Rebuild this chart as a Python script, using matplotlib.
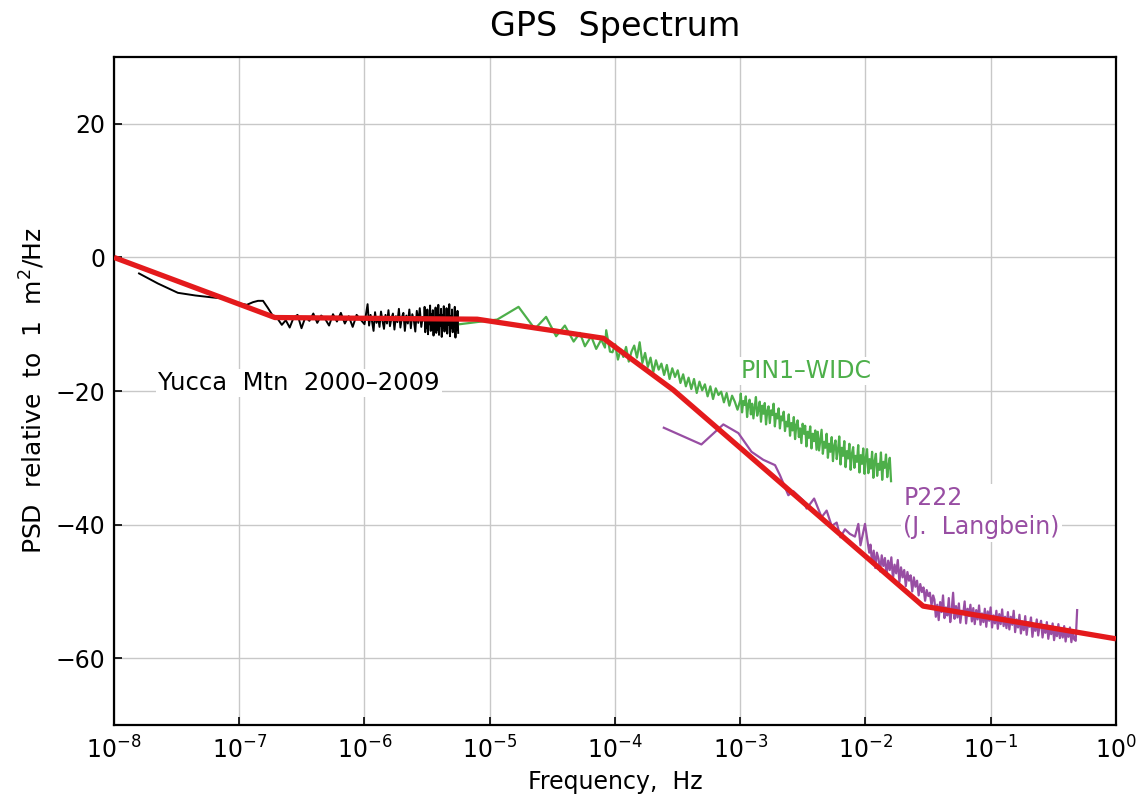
import numpy as np
import matplotlib
matplotlib.use("Agg")
import matplotlib.pyplot as plt
from matplotlib.ticker import NullLocator, FixedLocator

# ---------------- data ----------------
# Model (red) line: log10 frequency / PSD (dB)
red_logf = [-8.0, -6.715, -5.1, -4.093, -3.534, -1.54, 0.0]
red_psd = [0.0, -9.0, -9.25, -12.1, -19.85, -52.2, -57.1]

# Yucca Mtn (black)
bk_lo_logf = [-7.80, -7.65, -7.49, -7.35, -7.21, -7.10, -7.02, -6.94, -6.89,
              -6.85, -6.81, -6.77, -6.73, -6.70]
bk_lo_psd = [-2.4, -3.9, -5.3, -5.7, -6.0, -6.2, -6.8, -7.1, -6.7,
             -6.5, -6.5, -7.6, -8.8, -9.0]
bk_a_range = (10 ** -6.66, 1.0e-6)
bk_a_psd = [-10.1, -9.4, -10.5, -9.0, -8.6, -10.6, -8.9, -9.5, -8.4, -9.8, -8.7,
            -9.2, -10.2, -8.5, -9.6, -8.3, -9.9, -8.8, -10.4, -8.6, -9.3, -10.0]
bk_b_range = (1.03e-6, 3.0e-6)
bk_b_psd = [-8.4, -7.0, -10.2, -8.6, -9.6, -11.0, -8.2, -9.8, -8.9, -10.4,
            -8.1, -9.5, -10.7, -8.6, -9.9, -7.9, -10.3, -9.1, -8.4, -10.8,
            -8.8, -9.7, -7.7, -10.5, -9.0, -8.3, -11.0, -8.7, -9.9, -7.8,
            -10.6, -8.5, -9.4, -11.1, -8.0, -9.8, -7.6, -10.4, -8.9, -9.5]
bk_c_range = (3.02e-6, 5.6e-6)
bk_c_psd = [-7.4, -11.2, -8.2, -10.6, -7.8, -11.5, -8.9, -10.0, -7.2, -11.0,
            -8.5, -10.8, -7.9, -11.7, -9.0, -10.3, -7.5, -11.3, -8.3, -10.9,
            -7.1, -11.6, -8.7, -10.2, -7.7, -11.9, -8.6, -10.5, -7.3, -11.1,
            -9.1, -10.7, -7.6, -11.4, -8.4, -10.1, -7.0, -11.8, -8.8, -10.6,
            -7.8, -11.2, -9.2, -10.4, -7.4, -12.0, -8.6, -10.9, -8.0, -11.3]

# PIN1-WIDC (green)
gr_lo_logf = [-5.24, -4.94, -4.77, -4.64, -4.55, -4.47, -4.40, -4.33, -4.28,
              -4.24, -4.19, -4.15, -4.11, -4.08, -4.07, -4.04]
gr_lo_psd = [-10.0, -9.3, -7.4, -10.7, -8.9, -11.8, -10.2, -12.6, -11.3,
             -13.3, -11.8, -13.7, -12.3, -13.5, -10.9, -14.1]
gr_a_range = (10 ** -4.02, 1.0e-3)
gr_a_psd = [-14.2, -13.0, -15.3, -13.8, -14.9, -13.4, -15.6, -14.1, -13.2, -15.0,
            -12.7, -15.8, -14.3, -16.4, -15.0, -17.2, -15.4, -16.8, -15.9, -17.6,
            -16.1, -18.2, -16.6, -17.9, -16.9, -18.8, -17.5, -19.3, -18.0, -19.7,
            -18.2, -20.3, -18.6, -19.9, -19.0, -20.8, -19.3, -21.2, -19.6, -20.6,
            -20.1, -21.7, -20.3, -22.2, -20.7, -21.6, -22.8, -21.4]
gr_b_range = (1.01e-3, 1.6e-2)
gr_b_psd = [-20.4, -23.2, -21.5, -22.1, -20.8, -23.9, -22.0, -21.3, -23.5, -21.9,
            -24.1, -22.4, -20.9, -23.7, -22.8, -21.6, -24.6, -22.2, -23.4, -21.8,
            -25.0, -23.0, -22.3, -24.8, -22.9, -23.6, -21.9, -25.3, -23.4, -24.1,
            -22.6, -25.6, -23.8, -24.4,
            -23.1, -26.0, -24.6, -25.3, -23.5, -26.7, -24.8, -25.9, -23.9, -27.2,
            -25.1, -24.4, -26.9, -25.6, -27.8, -24.9, -26.4, -25.2, -28.3, -26.1,
            -27.0, -25.3, -28.6, -26.4, -27.5, -25.9, -28.8,
            -26.1, -28.9, -27.3, -25.8, -29.4, -27.6, -28.5, -26.4, -30.0, -27.9,
            -29.1, -26.9, -30.5, -28.2, -27.4, -30.2, -28.8, -26.8, -31.0, -28.5,
            -29.7, -27.5, -31.4, -29.0, -30.1, -27.9, -31.8, -29.4, -28.4, -31.5,
            -29.7, -30.6, -28.1, -32.2, -29.6, -30.9, -28.6, -32.4, -30.0,
            -28.7, -32.3, -30.2, -31.6, -29.1, -33.0, -30.5, -29.4, -32.7, -30.9,
            -31.8, -29.2, -33.3, -30.6, -31.5, -29.5, -32.9, -31.1, -30.0, -33.5]

# P222 (purple)
pu_lo_logf = [-3.61, -3.31, -3.135, -3.015, -2.91, -2.816, -2.722, -2.683, -2.616,
              -2.576, -2.497, -2.47, -2.41, -2.35, -2.31, -2.27, -2.23, -2.20,
              -2.164, -2.124, -2.084, -2.057, -2.04, -2.004, -1.97]
pu_lo_psd = [-25.5, -28.0, -25.0, -26.3, -29.1, -30.3, -31.1, -32.6, -35.6,
             -35.0, -36.4, -37.6, -36.1, -38.9, -37.9, -40.2, -39.7, -41.9,
             -40.7, -41.4, -41.8, -39.9, -43.1, -39.9, -44.2]
pu_a_range = (10 ** -1.96, 10 ** -1.46)
pu_a_psd = [-43.0, -45.8, -43.9, -46.5, -44.2, -45.1, -47.0, -44.6, -46.2, -45.0,
            -47.6, -45.4, -46.8, -44.9, -48.1, -46.0, -47.3, -45.3, -48.6, -46.4,
            -47.9, -46.8, -49.2, -47.1, -48.4, -47.6, -50.0, -47.9, -49.3, -48.4,
            -50.6, -48.9, -50.1, -49.4, -51.4, -49.8, -50.7, -50.2, -52.1, -50.6]
pu_b_range = (10 ** -1.45, 10 ** -0.31)
pu_b_psd = [-51.2, -53.8, -52.0, -54.3, -51.6, -53.1, -50.6, -54.0, -52.4, -53.6,
            -51.0, -54.6, -52.8, -50.2, -54.1, -52.2, -53.9, -51.8, -54.7, -52.9,
            -53.4, -51.5, -54.8, -52.6, -53.7, -52.0, -54.5,
            -52.5, -54.9, -52.8, -54.2, -52.1, -55.0, -53.3, -54.6, -52.6, -55.3,
            -53.0, -54.4, -52.4, -55.4, -53.6, -54.8, -52.9, -55.6, -53.4, -54.9,
            -52.7, -55.2, -53.8, -55.5,
            -53.1, -55.7, -53.8, -55.0, -52.9, -56.1, -54.2, -55.4, -53.5, -56.3,
            -54.5, -55.8, -53.7, -56.5, -54.6, -55.3, -53.9, -56.8, -54.9, -55.9,
            -54.2, -56.6, -55.1,
            -54.4, -56.9, -55.3, -56.2, -54.6, -57.1, -55.5, -56.4, -54.8, -57.3,
            -55.8, -56.7, -54.9, -57.0, -55.6, -56.9, -55.2, -57.5, -56.0, -56.8,
            -55.4, -57.6, -56.1, -57.2, -57.4, -52.8]

yticks = [-60, -40, -20, 0, 20]
xticks = [1e-8, 1e-7, 1e-6, 1e-5, 1e-4, 1e-3, 1e-2, 1e-1, 1e0]

RED = "#e41a1c"
GREEN = "#4daf4a"
PURPLE = "#984ea3"


def assemble(lo_logf, lo_psd, *segs):
    f = list(10.0 ** np.asarray(lo_logf))
    p = list(lo_psd)
    for rng, vals in segs:
        f += list(np.geomspace(rng[0], rng[1], len(vals)))
        p += list(vals)
    return np.array(f), np.array(p)


bk_f, bk_p = assemble(bk_lo_logf, bk_lo_psd, (bk_a_range, bk_a_psd),
                      (bk_b_range, bk_b_psd), (bk_c_range, bk_c_psd))
gr_f, gr_p = assemble(gr_lo_logf, gr_lo_psd, (gr_a_range, gr_a_psd),
                      (gr_b_range, gr_b_psd))
pu_f, pu_p = assemble(pu_lo_logf, pu_lo_psd, (pu_a_range, pu_a_psd),
                      (pu_b_range, pu_b_psd))
red_f = 10.0 ** np.asarray(red_logf)

# ---------------- figure ----------------
plt.rcParams["font.family"] = ["DejaVu Sans"]
fig = plt.figure(figsize=(11.48, 8.01), dpi=100)
ax = fig.add_axes([0.0993, 0.0949, 0.9721 - 0.0993, 0.9288 - 0.0949])

ax.set_xscale("log")
ax.set_xlim(1e-8, 1.0)
ax.set_ylim(-70, 30)

ax.grid(True, which="major", color="#c8c8c8", lw=1.0, zorder=0)
ax.set_axisbelow(True)

ax.plot(gr_f, gr_p, color=GREEN, lw=1.6, zorder=3)
ax.plot(pu_f, pu_p, color=PURPLE, lw=1.6, zorder=3)
ax.plot(bk_f, bk_p, color="black", lw=1.4, zorder=4)
ax.plot(red_f, red_psd, color=RED, lw=3.8, zorder=5, solid_capstyle="butt")

ax.xaxis.set_major_locator(FixedLocator(xticks))
ax.xaxis.set_minor_locator(NullLocator())
ax.set_yticks(yticks)
ax.tick_params(axis="both", which="major", direction="in", length=6, width=1.2,
               labelsize=17, top=False, right=False)
ax.tick_params(axis="x", pad=8)
ax.tick_params(axis="y", pad=6)
for s in ax.spines.values():
    s.set_linewidth(1.6)

ax.set_title("GPS  Spectrum", fontsize=24, pad=15)
ax.set_xlabel("Frequency,  Hz", fontsize=17, labelpad=5)
ax.set_ylabel("PSD  relative  to  1  m$^2$/Hz", fontsize=18, labelpad=6)

box = dict(facecolor="white", edgecolor="none", pad=1.5)
ax.text(3.0e-7, -18.8, "Yucca  Mtn  2000\u20132009", fontsize=17.5, color="black",
        ha="center", va="center", bbox=box, zorder=6)
ax.text(1.0e-3, -17.0, "PIN1\u2013WIDC", fontsize=17, color=GREEN,
        ha="left", va="center", bbox=box, zorder=6)
ax.text(2.0e-2, -38.2, "P222\n(J.  Langbein)", fontsize=17, color=PURPLE,
        ha="left", va="center", linespacing=1.3, bbox=box, zorder=6)

fig.savefig("out.png", dpi=100)
